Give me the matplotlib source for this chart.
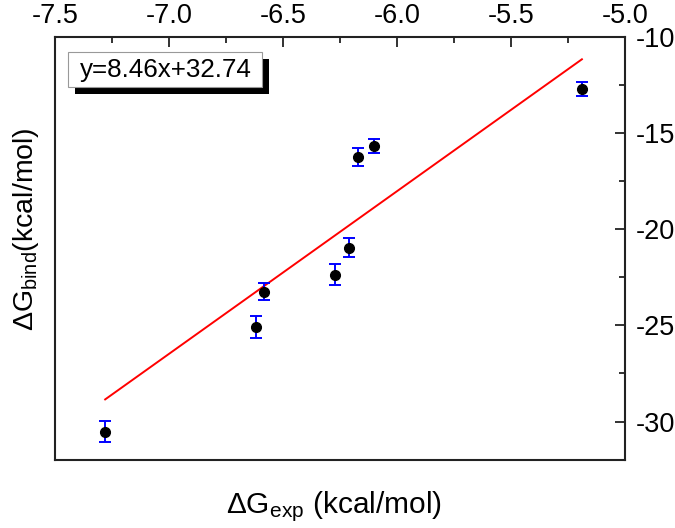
import numpy as np
import matplotlib
matplotlib.use('Agg')
import matplotlib.pyplot as plt
from matplotlib.patches import Rectangle

# ── Data ──────────────────────────────────────────────────────
dg_exp  = [-7.28, -6.618, -6.583, -6.272, -6.211, -6.171, -6.101, -5.189]
dg_bind = [-30.52, -25.06, -23.25, -22.36, -20.96, -16.23, -15.66, -12.70]
dg_err  = [0.55, 0.57, 0.45, 0.55, 0.50, 0.47, 0.36, 0.36]
fit_slope, fit_icpt = 8.46, 32.74

plt.rcParams['font.family'] = ['Liberation Sans', 'DejaVu Sans']
plt.rcParams['mathtext.fontset'] = 'custom'
plt.rcParams['mathtext.rm'] = 'Liberation Sans'
plt.rcParams['mathtext.it'] = 'Liberation Sans:italic'

fig = plt.figure(figsize=(6.75, 5.28), dpi=100)
ax = fig.add_axes([55/675, 1-460/528, 570/675, 423/528])

# fit line over data span
fx = np.array([min(dg_exp), max(dg_exp)])
ax.plot(fx, fit_slope*fx + fit_icpt, color='red', lw=1.4, zorder=2)

ax.errorbar(dg_exp, dg_bind, yerr=dg_err, fmt='o', color='black',
            ms=7, ecolor='blue', elinewidth=1.4, capsize=4, capthick=1.4,
            zorder=3)

ax.set_xlim(-7.5, -5.0)
ax.set_ylim(-32, -10)
ax.set_xticks(np.arange(-7.5, -4.99, 0.5))
ax.set_xticks(np.arange(-7.25, -5.0, 0.5), minor=True)
ax.set_yticks([-30, -25, -20, -15, -10])
ax.set_yticks([-27.5, -22.5, -17.5, -12.5], minor=True)

ax.xaxis.tick_top()
ax.yaxis.tick_right()
ax.tick_params(which='both', direction='in', labelsize=19.5, width=1.3,
               color='#222222')
ax.tick_params(which='major', length=7)
ax.tick_params(which='minor', length=4)
ax.tick_params(axis='x', which='major', pad=6)
ax.tick_params(axis='y', which='major', pad=8)
ax.set_xticklabels(['-7.5', '-7.0', '-6.5', '-6.0', '-5.5', '-5.0'])
ax.set_yticklabels(['-30', '-25', '-20', '-15', '-10'])
for sp in ax.spines.values():
    sp.set_linewidth(1.5)
    sp.set_color('#222222')

ax.set_xlabel(r'$\Delta$G$_{\rm exp}$ (kcal/mol)', fontsize=21.5)
ax.xaxis.set_label_position('bottom')
ax.xaxis.set_label_coords(0.49, -0.07)
ax.set_ylabel(r'$\Delta$G$_{\rm bind}$(kcal/mol)', fontsize=20.5)
ax.yaxis.set_label_position('left')
ax.yaxis.set_label_coords(-0.025, 0.546)

# equation box with solid drop shadow
bx0, bx1, by0, by1 = 0.0228, 0.363, 0.8818, 0.9645
ax.add_patch(Rectangle((bx0 + 0.013, by0 - 0.016), bx1 - bx0, by1 - by0,
                       transform=ax.transAxes, fc='black', ec='none', zorder=4))
ax.add_patch(Rectangle((bx0, by0), bx1 - bx0, by1 - by0,
                       transform=ax.transAxes, fc='white', ec='#999999',
                       lw=0.8, zorder=5))
ax.text(0.044, 0.923, f'y={fit_slope}x+{fit_icpt}', transform=ax.transAxes,
        fontsize=18.7, ha='left', va='center', zorder=6)

fig.savefig('out.png', dpi=100)
